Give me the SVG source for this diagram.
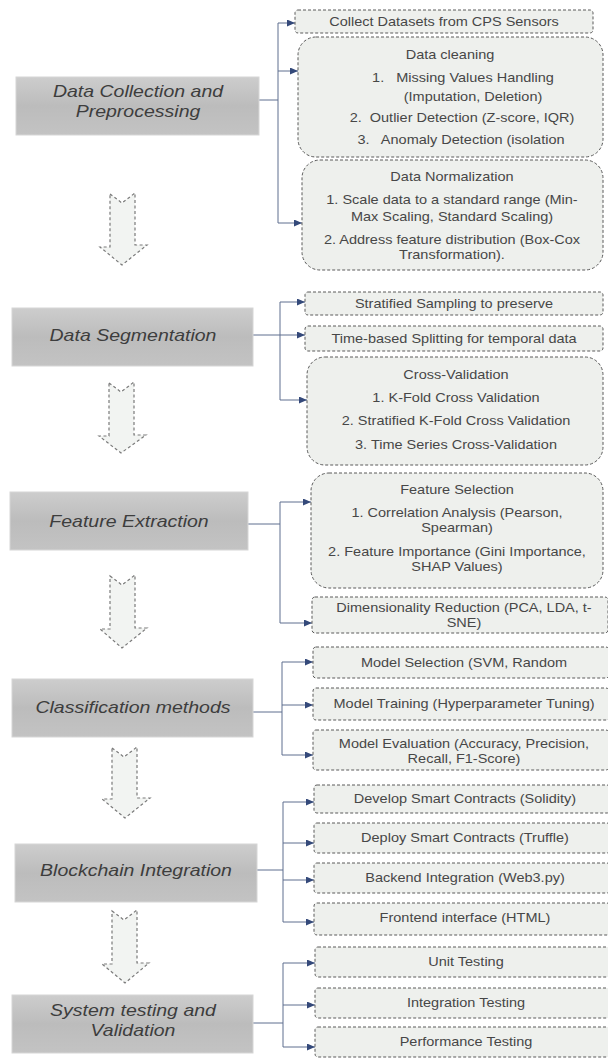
<svg xmlns="http://www.w3.org/2000/svg" width="608" height="1059" viewBox="0 0 608 1059">
<style>
.t{font-family:"Liberation Sans",Arial,sans-serif;font-size:12px;fill:#474747;text-anchor:middle;white-space:pre}
.L{font-family:"Liberation Sans",Arial,sans-serif;font-size:16px;font-style:italic;fill:#3d3d3d;text-anchor:middle}
.lb{fill:url(#gg);stroke:#d6d6d6;stroke-width:1}
.rb{fill:#eef0ed;stroke:#5a5a5a;stroke-width:1;stroke-dasharray:3 2}
.da{fill:#f2f4f2;stroke:#7a7a7a;stroke-width:1.2;stroke-dasharray:3 2.5}
.c{fill:none;stroke:#5f6f8f;stroke-width:1}
.ca{fill:none;stroke:#5f6f8f;stroke-width:1;marker-end:url(#ah)}
</style>
<defs>
<linearGradient id="gg" x1="0" y1="0" x2="0" y2="1">
<stop offset="0" stop-color="#cdcdcd"/>
<stop offset="0.5" stop-color="#bcbcbc"/>
<stop offset="1" stop-color="#c3c3c3"/>
</linearGradient>
<marker id="ah" markerUnits="userSpaceOnUse" markerWidth="8" markerHeight="7" refX="8" refY="3.5" orient="auto">
<path d="M0,0 L8,3.5 L0,7 z" fill="#34497a"/>
</marker>
</defs>

<g id="connectors">
<path class="c" d="M259,100 H278 M278,23 V223 M253,335 H280 M280,302 V400 M248,524 H280 M280,502 V623 M253,712 H282 M282,662 V755 M257,870 H283 M283,802 V922 M253,1023 H283 M283,963 V1047"/>
<path class="ca" d="M278,23 H295"/>
<path class="ca" d="M278,71 H298"/>
<path class="ca" d="M278,223 H302"/>
<path class="ca" d="M280,302 H305"/>
<path class="ca" d="M280,335 H305"/>
<path class="ca" d="M280,400 H307"/>
<path class="ca" d="M280,502 H311"/>
<path class="ca" d="M280,623 H312"/>
<path class="ca" d="M282,662 H313"/>
<path class="ca" d="M282,705 H313"/>
<path class="ca" d="M282,755 H313"/>
<path class="ca" d="M283,802 H314"/>
<path class="ca" d="M283,843 H314"/>
<path class="ca" d="M283,880 H314"/>
<path class="ca" d="M283,922 H314"/>
<path class="ca" d="M283,963 H315"/>
<path class="ca" d="M283,1005 H315"/>
<path class="ca" d="M283,1047 H315"/>
</g>

<g id="down-arrows">
<path id="arrow1" class="da" d="M110,194 L122,203 L135,193 V245 H147 L122,265 L100,247 H110 Z"/>
<path id="arrow2" class="da" d="M109,383 L121,392 L134,382 V435 H146 L121,453 L99,436 H109 Z"/>
<path id="arrow3" class="da" d="M110,576 L122,585 L135,575 V628 H147 L122,648 L100,629 H110 Z"/>
<path id="arrow4" class="da" d="M112,748 L124,757 L137,747 V798 H150 L125,818 L102,799 H112 Z"/>
<path id="arrow5" class="da" d="M112,911 L124,920 L137,910 V963 H149 L125,983 L102,964 H112 Z"/>
</g>

<g id="n-collection">
<rect class="lb" x="16" y="77" width="243" height="58"/>
<text class="L" transform="matrix(1.22 0 0 1 138 97)">Data Collection and</text>
<text class="L" transform="matrix(1.22 0 0 1 138 117)">Preprocessing</text>
</g>
<g id="n-segmentation">
<rect class="lb" x="12" y="308" width="241" height="58"/>
<text class="L" transform="matrix(1.22 0 0 1 133 341)">Data Segmentation</text>
</g>
<g id="n-feature">
<rect class="lb" x="10" y="492" width="238" height="58"/>
<text class="L" transform="matrix(1.22 0 0 1 129 527)">Feature Extraction</text>
</g>
<g id="n-classification">
<rect class="lb" x="12" y="679" width="241" height="58"/>
<text class="L" transform="matrix(1.22 0 0 1 133 713)">Classification methods</text>
</g>
<g id="n-blockchain">
<rect class="lb" x="15" y="844" width="242" height="58"/>
<text class="L" transform="matrix(1.22 0 0 1 136 876)">Blockchain Integration</text>
</g>
<g id="n-system">
<rect class="lb" x="12" y="995" width="241" height="58"/>
<text class="L" transform="matrix(1.22 0 0 1 133 1016)">System testing and</text>
<text class="L" transform="matrix(1.22 0 0 1 133 1036)">Validation</text>
</g>

<g id="r-collect">
<rect class="rb" x="295" y="10" width="298" height="23" rx="3"/>
<text class="t" transform="matrix(1.21 0 0 1 444 26)">Collect Datasets from CPS Sensors</text>
</g>
<g id="r-cleaning">
<rect class="rb" x="298" y="37" width="305" height="120" rx="18"/>
<text class="t" transform="matrix(1.21 0 0 1 450 59)">Data cleaning</text>
<text class="t" transform="matrix(1.21 0 0 1 463 82)">1.   Missing Values Handling</text>
<text class="t" transform="matrix(1.21 0 0 1 473 101)">(Imputation, Deletion)</text>
<text class="t" transform="matrix(1.21 0 0 1 462 122)">2.  Outlier Detection (Z-score, IQR)</text>
<text class="t" transform="matrix(1.21 0 0 1 461 144)">3.   Anomaly Detection (isolation</text>
</g>
<g id="r-normalization">
<rect class="rb" x="302" y="160" width="301" height="110" rx="18"/>
<text class="t" transform="matrix(1.21 0 0 1 452 181)">Data Normalization</text>
<text class="t" transform="matrix(1.21 0 0 1 452 204)">1. Scale data to a standard range (Min-</text>
<text class="t" transform="matrix(1.21 0 0 1 452 221)">Max Scaling, Standard Scaling)</text>
<text class="t" transform="matrix(1.21 0 0 1 452 244)">2. Address feature distribution (Box-Cox</text>
<text class="t" transform="matrix(1.21 0 0 1 452 259)">Transformation).</text>
</g>
<g id="r-stratified">
<rect class="rb" x="305" y="292" width="298" height="23" rx="3"/>
<text class="t" transform="matrix(1.21 0 0 1 454 308)">Stratified Sampling to preserve</text>
</g>
<g id="r-time">
<rect class="rb" x="305" y="326" width="298" height="25" rx="3"/>
<text class="t" transform="matrix(1.21 0 0 1 454 343)">Time-based Splitting for temporal data</text>
</g>
<g id="r-crossval">
<rect class="rb" x="307" y="357" width="296" height="108" rx="18"/>
<text class="t" transform="matrix(1.21 0 0 1 456 379)">Cross-Validation</text>
<text class="t" transform="matrix(1.21 0 0 1 456 402)">1. K-Fold Cross Validation</text>
<text class="t" transform="matrix(1.21 0 0 1 456 425)">2. Stratified K-Fold Cross Validation</text>
<text class="t" transform="matrix(1.21 0 0 1 456 449)">3. Time Series Cross-Validation</text>
</g>
<g id="r-selection">
<rect class="rb" x="311" y="473" width="292" height="115" rx="18"/>
<text class="t" transform="matrix(1.21 0 0 1 457 494)">Feature Selection</text>
<text class="t" transform="matrix(1.21 0 0 1 457 517)">1. Correlation Analysis (Pearson,</text>
<text class="t" transform="matrix(1.21 0 0 1 457 532)">Spearman)</text>
<text class="t" transform="matrix(1.21 0 0 1 457 556)">2. Feature Importance (Gini Importance,</text>
<text class="t" transform="matrix(1.21 0 0 1 457 571)">SHAP Values)</text>
</g>
<g id="r-dimred">
<rect class="rb" x="312" y="597" width="296" height="36" rx="3"/>
<text class="t" transform="matrix(1.21 0 0 1 464 612)">Dimensionality Reduction (PCA, LDA, t-</text>
<text class="t" transform="matrix(1.21 0 0 1 464 627)">SNE)</text>
</g>
<g id="r-modelsel">
<rect class="rb" x="313" y="647" width="296" height="31" rx="3"/>
<text class="t" transform="matrix(1.21 0 0 1 464 667)">Model Selection (SVM, Random</text>
</g>
<g id="r-modeltrain">
<rect class="rb" x="313" y="688" width="296" height="32" rx="3"/>
<text class="t" transform="matrix(1.21 0 0 1 464 708)">Model Training (Hyperparameter Tuning)</text>
</g>
<g id="r-modeleval">
<rect class="rb" x="313" y="730" width="296" height="40" rx="3"/>
<text class="t" transform="matrix(1.21 0 0 1 464 748)">Model Evaluation (Accuracy, Precision,</text>
<text class="t" transform="matrix(1.21 0 0 1 464 763)">Recall, F1-Score)</text>
</g>
<g id="r-develop">
<rect class="rb" x="314" y="785" width="296" height="28" rx="3"/>
<text class="t" transform="matrix(1.21 0 0 1 465 803)">Develop Smart Contracts (Solidity)</text>
</g>
<g id="r-deploy">
<rect class="rb" x="314" y="823" width="296" height="30" rx="3"/>
<text class="t" transform="matrix(1.21 0 0 1 465 842)">Deploy Smart Contracts (Truffle)</text>
</g>
<g id="r-backend">
<rect class="rb" x="314" y="863" width="296" height="30" rx="3"/>
<text class="t" transform="matrix(1.21 0 0 1 465 882)">Backend Integration (Web3.py)</text>
</g>
<g id="r-frontend">
<rect class="rb" x="314" y="903" width="296" height="32" rx="3"/>
<text class="t" transform="matrix(1.21 0 0 1 465 922)">Frontend interface (HTML)</text>
</g>
<g id="r-unit">
<rect class="rb" x="315" y="947" width="296" height="30" rx="3"/>
<text class="t" transform="matrix(1.21 0 0 1 466 966)">Unit Testing</text>
</g>
<g id="r-integration">
<rect class="rb" x="315" y="988" width="296" height="30" rx="3"/>
<text class="t" transform="matrix(1.21 0 0 1 466 1007)">Integration Testing</text>
</g>
<g id="r-performance">
<rect class="rb" x="315" y="1027" width="296" height="30" rx="3"/>
<text class="t" transform="matrix(1.21 0 0 1 466 1046)">Performance Testing</text>
</g>
</svg>
